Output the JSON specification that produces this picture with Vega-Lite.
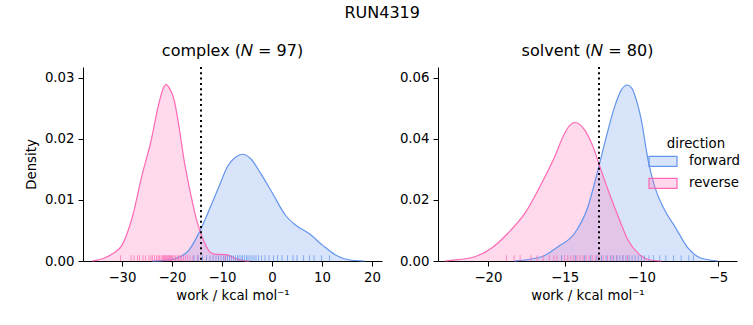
{
  "$schema": "https://vega.github.io/schema/vega-lite/v6.json",
  "padding": {"left": 24, "top": 5, "right": 5, "bottom": 5},
  "title": {"text": "RUN4319", "anchor": "middle", "fontSize": 16, "fontWeight": "normal", "font": "DejaVu Sans", "color": "black", "offset": 22},
  "datasets": {
    "kde": [
      {"panel": "complex", "direction": "forward", "work": -24, "density": 0},
      {"panel": "complex", "direction": "forward", "work": -21.5, "density": 0.0001},
      {"panel": "complex", "direction": "forward", "work": -19.3, "density": 0.0004},
      {"panel": "complex", "direction": "forward", "work": -16.6, "density": 0.0018},
      {"panel": "complex", "direction": "forward", "work": -14.3, "density": 0.0051},
      {"panel": "complex", "direction": "forward", "work": -12.3, "density": 0.0089},
      {"panel": "complex", "direction": "forward", "work": -10.6, "density": 0.0122},
      {"panel": "complex", "direction": "forward", "work": -8.9, "density": 0.0155},
      {"panel": "complex", "direction": "forward", "work": -7.3, "density": 0.017},
      {"panel": "complex", "direction": "forward", "work": -5.9, "density": 0.0175},
      {"panel": "complex", "direction": "forward", "work": -4.3, "density": 0.0168},
      {"panel": "complex", "direction": "forward", "work": -2.3, "density": 0.0144},
      {"panel": "complex", "direction": "forward", "work": 0.1, "density": 0.0111},
      {"panel": "complex", "direction": "forward", "work": 2.7, "density": 0.0075},
      {"panel": "complex", "direction": "forward", "work": 4.7, "density": 0.0059},
      {"panel": "complex", "direction": "forward", "work": 7.4, "density": 0.0045},
      {"panel": "complex", "direction": "forward", "work": 10.1, "density": 0.0026},
      {"panel": "complex", "direction": "forward", "work": 12.7, "density": 0.001},
      {"panel": "complex", "direction": "forward", "work": 15.4, "density": 0.0002},
      {"panel": "complex", "direction": "forward", "work": 18.5, "density": 0},
      {"panel": "complex", "direction": "reverse", "work": -36, "density": 0},
      {"panel": "complex", "direction": "reverse", "work": -35.3, "density": 0.0001},
      {"panel": "complex", "direction": "reverse", "work": -33.5, "density": 0.0005},
      {"panel": "complex", "direction": "reverse", "work": -32.3, "density": 0.001},
      {"panel": "complex", "direction": "reverse", "work": -30, "density": 0.0026},
      {"panel": "complex", "direction": "reverse", "work": -27.9, "density": 0.0073},
      {"panel": "complex", "direction": "reverse", "work": -25.9, "density": 0.0144},
      {"panel": "complex", "direction": "reverse", "work": -24.3, "density": 0.0193},
      {"panel": "complex", "direction": "reverse", "work": -22.6, "density": 0.0259},
      {"panel": "complex", "direction": "reverse", "work": -21.8, "density": 0.0282},
      {"panel": "complex", "direction": "reverse", "work": -21.2, "density": 0.0289},
      {"panel": "complex", "direction": "reverse", "work": -20.5, "density": 0.0283},
      {"panel": "complex", "direction": "reverse", "work": -19.6, "density": 0.0265},
      {"panel": "complex", "direction": "reverse", "work": -18.6, "density": 0.022},
      {"panel": "complex", "direction": "reverse", "work": -17.6, "density": 0.0166},
      {"panel": "complex", "direction": "reverse", "work": -16.3, "density": 0.0111},
      {"panel": "complex", "direction": "reverse", "work": -14.9, "density": 0.0062},
      {"panel": "complex", "direction": "reverse", "work": -13.6, "density": 0.0032},
      {"panel": "complex", "direction": "reverse", "work": -12.3, "density": 0.0014},
      {"panel": "complex", "direction": "reverse", "work": -11.2, "density": 0.0011},
      {"panel": "complex", "direction": "reverse", "work": -10.0, "density": 0.0011},
      {"panel": "complex", "direction": "reverse", "work": -8.9, "density": 0.001},
      {"panel": "complex", "direction": "reverse", "work": -7.3, "density": 0.0004},
      {"panel": "complex", "direction": "reverse", "work": -5.5, "density": 0.00005},
      {"panel": "complex", "direction": "reverse", "work": -4.5, "density": 0},
      {"panel": "solvent", "direction": "forward", "work": -18.3, "density": 0},
      {"panel": "solvent", "direction": "forward", "work": -16.5, "density": 0.0014},
      {"panel": "solvent", "direction": "forward", "work": -15.43, "density": 0.0047},
      {"panel": "solvent", "direction": "forward", "work": -14.35, "density": 0.0091},
      {"panel": "solvent", "direction": "forward", "work": -13.48, "density": 0.0178},
      {"panel": "solvent", "direction": "forward", "work": -12.83, "density": 0.0298},
      {"panel": "solvent", "direction": "forward", "work": -12.28, "density": 0.0408},
      {"panel": "solvent", "direction": "forward", "work": -11.74, "density": 0.0506},
      {"panel": "solvent", "direction": "forward", "work": -11.3, "density": 0.0561},
      {"panel": "solvent", "direction": "forward", "work": -10.93, "density": 0.0577},
      {"panel": "solvent", "direction": "forward", "work": -10.6, "density": 0.0565},
      {"panel": "solvent", "direction": "forward", "work": -10.43, "density": 0.0544},
      {"panel": "solvent", "direction": "forward", "work": -10.0, "density": 0.0462},
      {"panel": "solvent", "direction": "forward", "work": -9.56, "density": 0.0331},
      {"panel": "solvent", "direction": "forward", "work": -9.13, "density": 0.0244},
      {"panel": "solvent", "direction": "forward", "work": -8.48, "density": 0.0167},
      {"panel": "solvent", "direction": "forward", "work": -7.8, "density": 0.0112},
      {"panel": "solvent", "direction": "forward", "work": -6.95, "density": 0.0042},
      {"panel": "solvent", "direction": "forward", "work": -6.08, "density": 0.0009},
      {"panel": "solvent", "direction": "forward", "work": -5.0, "density": 0},
      {"panel": "solvent", "direction": "reverse", "work": -22.8, "density": 0},
      {"panel": "solvent", "direction": "reverse", "work": -22.4, "density": 0.0002},
      {"panel": "solvent", "direction": "reverse", "work": -20.87, "density": 0.0014},
      {"panel": "solvent", "direction": "reverse", "work": -19.78, "density": 0.0042},
      {"panel": "solvent", "direction": "reverse", "work": -18.7, "density": 0.0091},
      {"panel": "solvent", "direction": "reverse", "work": -17.6, "density": 0.0156},
      {"panel": "solvent", "direction": "reverse", "work": -16.5, "density": 0.0255},
      {"panel": "solvent", "direction": "reverse", "work": -15.65, "density": 0.0342},
      {"panel": "solvent", "direction": "reverse", "work": -15.0, "density": 0.0419},
      {"panel": "solvent", "direction": "reverse", "work": -14.6, "density": 0.0448},
      {"panel": "solvent", "direction": "reverse", "work": -14.35, "density": 0.0454},
      {"panel": "solvent", "direction": "reverse", "work": -14.0, "density": 0.0447},
      {"panel": "solvent", "direction": "reverse", "work": -13.7, "density": 0.043},
      {"panel": "solvent", "direction": "reverse", "work": -13.15, "density": 0.0375},
      {"panel": "solvent", "direction": "reverse", "work": -12.7, "density": 0.0309},
      {"panel": "solvent", "direction": "reverse", "work": -12.17, "density": 0.0233},
      {"panel": "solvent", "direction": "reverse", "work": -11.5, "density": 0.0145},
      {"panel": "solvent", "direction": "reverse", "work": -10.87, "density": 0.0069},
      {"panel": "solvent", "direction": "reverse", "work": -10.2, "density": 0.0025},
      {"panel": "solvent", "direction": "reverse", "work": -9.56, "density": 0.0005},
      {"panel": "solvent", "direction": "reverse", "work": -8.7, "density": 0}
    ],
    "rug": [
      {"panel": "complex", "direction": "reverse", "work": -30.3},
      {"panel": "complex", "direction": "reverse", "work": -28.2},
      {"panel": "complex", "direction": "reverse", "work": -27.6},
      {"panel": "complex", "direction": "reverse", "work": -26.9},
      {"panel": "complex", "direction": "reverse", "work": -26.5},
      {"panel": "complex", "direction": "reverse", "work": -25.8},
      {"panel": "complex", "direction": "reverse", "work": -25.3},
      {"panel": "complex", "direction": "reverse", "work": -24.6},
      {"panel": "complex", "direction": "reverse", "work": -24.2},
      {"panel": "complex", "direction": "reverse", "work": -23.9},
      {"panel": "complex", "direction": "reverse", "work": -23.5},
      {"panel": "complex", "direction": "reverse", "work": -23.1},
      {"panel": "complex", "direction": "reverse", "work": -22.8},
      {"panel": "complex", "direction": "reverse", "work": -22.5},
      {"panel": "complex", "direction": "reverse", "work": -22.2},
      {"panel": "complex", "direction": "reverse", "work": -21.9},
      {"panel": "complex", "direction": "reverse", "work": -21.7},
      {"panel": "complex", "direction": "reverse", "work": -21.5},
      {"panel": "complex", "direction": "reverse", "work": -21.3},
      {"panel": "complex", "direction": "reverse", "work": -21.1},
      {"panel": "complex", "direction": "reverse", "work": -20.9},
      {"panel": "complex", "direction": "reverse", "work": -20.7},
      {"panel": "complex", "direction": "reverse", "work": -20.5},
      {"panel": "complex", "direction": "reverse", "work": -20.3},
      {"panel": "complex", "direction": "reverse", "work": -20.1},
      {"panel": "complex", "direction": "reverse", "work": -19.9},
      {"panel": "complex", "direction": "reverse", "work": -19.6},
      {"panel": "complex", "direction": "reverse", "work": -19.3},
      {"panel": "complex", "direction": "reverse", "work": -19.0},
      {"panel": "complex", "direction": "reverse", "work": -18.7},
      {"panel": "complex", "direction": "reverse", "work": -18.4},
      {"panel": "complex", "direction": "reverse", "work": -18.1},
      {"panel": "complex", "direction": "reverse", "work": -17.7},
      {"panel": "complex", "direction": "reverse", "work": -17.3},
      {"panel": "complex", "direction": "reverse", "work": -16.9},
      {"panel": "complex", "direction": "reverse", "work": -16.4},
      {"panel": "complex", "direction": "reverse", "work": -15.8},
      {"panel": "complex", "direction": "reverse", "work": -14.9},
      {"panel": "complex", "direction": "reverse", "work": -9.4},
      {"panel": "complex", "direction": "forward", "work": -15.6},
      {"panel": "complex", "direction": "forward", "work": -14.8},
      {"panel": "complex", "direction": "forward", "work": -13.9},
      {"panel": "complex", "direction": "forward", "work": -13.1},
      {"panel": "complex", "direction": "forward", "work": -12.4},
      {"panel": "complex", "direction": "forward", "work": -11.8},
      {"panel": "complex", "direction": "forward", "work": -11.2},
      {"panel": "complex", "direction": "forward", "work": -10.7},
      {"panel": "complex", "direction": "forward", "work": -10.2},
      {"panel": "complex", "direction": "forward", "work": -9.7},
      {"panel": "complex", "direction": "forward", "work": -9.3},
      {"panel": "complex", "direction": "forward", "work": -8.9},
      {"panel": "complex", "direction": "forward", "work": -8.5},
      {"panel": "complex", "direction": "forward", "work": -8.1},
      {"panel": "complex", "direction": "forward", "work": -7.7},
      {"panel": "complex", "direction": "forward", "work": -7.3},
      {"panel": "complex", "direction": "forward", "work": -6.9},
      {"panel": "complex", "direction": "forward", "work": -6.6},
      {"panel": "complex", "direction": "forward", "work": -6.2},
      {"panel": "complex", "direction": "forward", "work": -5.9},
      {"panel": "complex", "direction": "forward", "work": -5.5},
      {"panel": "complex", "direction": "forward", "work": -5.1},
      {"panel": "complex", "direction": "forward", "work": -4.8},
      {"panel": "complex", "direction": "forward", "work": -4.4},
      {"panel": "complex", "direction": "forward", "work": -4.0},
      {"panel": "complex", "direction": "forward", "work": -3.6},
      {"panel": "complex", "direction": "forward", "work": -3.2},
      {"panel": "complex", "direction": "forward", "work": -2.7},
      {"panel": "complex", "direction": "forward", "work": -2.1},
      {"panel": "complex", "direction": "forward", "work": -1.4},
      {"panel": "complex", "direction": "forward", "work": -0.6},
      {"panel": "complex", "direction": "forward", "work": 0.3},
      {"panel": "complex", "direction": "forward", "work": 1.1},
      {"panel": "complex", "direction": "forward", "work": 2.0},
      {"panel": "complex", "direction": "forward", "work": 3.1},
      {"panel": "complex", "direction": "forward", "work": 4.2},
      {"panel": "complex", "direction": "forward", "work": 5.0},
      {"panel": "complex", "direction": "forward", "work": 6.3},
      {"panel": "complex", "direction": "forward", "work": 7.5},
      {"panel": "complex", "direction": "forward", "work": 8.4},
      {"panel": "complex", "direction": "forward", "work": 9.9},
      {"panel": "complex", "direction": "forward", "work": 11.5},
      {"panel": "solvent", "direction": "reverse", "work": -18.8},
      {"panel": "solvent", "direction": "reverse", "work": -18.3},
      {"panel": "solvent", "direction": "reverse", "work": -17.9},
      {"panel": "solvent", "direction": "reverse", "work": -17.2},
      {"panel": "solvent", "direction": "reverse", "work": -16.8},
      {"panel": "solvent", "direction": "reverse", "work": -16.4},
      {"panel": "solvent", "direction": "reverse", "work": -16.0},
      {"panel": "solvent", "direction": "reverse", "work": -15.7},
      {"panel": "solvent", "direction": "reverse", "work": -15.5},
      {"panel": "solvent", "direction": "reverse", "work": -15.2},
      {"panel": "solvent", "direction": "reverse", "work": -15.0},
      {"panel": "solvent", "direction": "reverse", "work": -14.8},
      {"panel": "solvent", "direction": "reverse", "work": -14.6},
      {"panel": "solvent", "direction": "reverse", "work": -14.4},
      {"panel": "solvent", "direction": "reverse", "work": -14.2},
      {"panel": "solvent", "direction": "reverse", "work": -14.0},
      {"panel": "solvent", "direction": "reverse", "work": -13.8},
      {"panel": "solvent", "direction": "reverse", "work": -13.6},
      {"panel": "solvent", "direction": "reverse", "work": -13.4},
      {"panel": "solvent", "direction": "reverse", "work": -13.2},
      {"panel": "solvent", "direction": "reverse", "work": -13.0},
      {"panel": "solvent", "direction": "reverse", "work": -12.8},
      {"panel": "solvent", "direction": "reverse", "work": -12.5},
      {"panel": "solvent", "direction": "reverse", "work": -12.2},
      {"panel": "solvent", "direction": "reverse", "work": -11.9},
      {"panel": "solvent", "direction": "reverse", "work": -11.6},
      {"panel": "solvent", "direction": "reverse", "work": -11.2},
      {"panel": "solvent", "direction": "reverse", "work": -10.9},
      {"panel": "solvent", "direction": "forward", "work": -15.2},
      {"panel": "solvent", "direction": "forward", "work": -14.3},
      {"panel": "solvent", "direction": "forward", "work": -13.7},
      {"panel": "solvent", "direction": "forward", "work": -13.3},
      {"panel": "solvent", "direction": "forward", "work": -12.9},
      {"panel": "solvent", "direction": "forward", "work": -12.6},
      {"panel": "solvent", "direction": "forward", "work": -12.3},
      {"panel": "solvent", "direction": "forward", "work": -12.0},
      {"panel": "solvent", "direction": "forward", "work": -11.8},
      {"panel": "solvent", "direction": "forward", "work": -11.6},
      {"panel": "solvent", "direction": "forward", "work": -11.4},
      {"panel": "solvent", "direction": "forward", "work": -11.2},
      {"panel": "solvent", "direction": "forward", "work": -11.0},
      {"panel": "solvent", "direction": "forward", "work": -10.8},
      {"panel": "solvent", "direction": "forward", "work": -10.6},
      {"panel": "solvent", "direction": "forward", "work": -10.4},
      {"panel": "solvent", "direction": "forward", "work": -10.2},
      {"panel": "solvent", "direction": "forward", "work": -10.0},
      {"panel": "solvent", "direction": "forward", "work": -9.8},
      {"panel": "solvent", "direction": "forward", "work": -9.5},
      {"panel": "solvent", "direction": "forward", "work": -9.2},
      {"panel": "solvent", "direction": "forward", "work": -8.8},
      {"panel": "solvent", "direction": "forward", "work": -8.4},
      {"panel": "solvent", "direction": "forward", "work": -7.9},
      {"panel": "solvent", "direction": "forward", "work": -7.4},
      {"panel": "solvent", "direction": "forward", "work": -6.9},
      {"panel": "solvent", "direction": "forward", "work": -6.6}
    ],
    "vline": [
      {"panel": "complex", "work": -14.2},
      {"panel": "solvent", "work": -12.76}
    ]
  },
  "hconcat": [
    {
      "width": 299, "height": 194,
      "title": {"text": "complex (𝑁 = 97)", "offset": 7},
      "layer": [
        {
          "data": {"name": "kde"},
          "transform": [{"filter": "datum.panel === 'complex'"}],
          "mark": {"type": "area", "fillOpacity": 0.25, "interpolate": "monotone"},
          "encoding": {
            "x": {"field": "work", "type": "quantitative", "scale": {"domain": [-37.8, 22], "nice": false, "zero": false}, "axis": {"values": [-30, -20, -10, 0, 10, 20], "title": "work / kcal mol⁻¹"}},
            "y": {"field": "density", "type": "quantitative", "stack": null, "scale": {"domain": [0, 0.0318], "nice": false}, "axis": {"values": [0, 0.01, 0.02, 0.03], "format": ".2f", "title": "Density"}},
            "color": {"field": "direction", "type": "nominal", "scale": {"domain": ["forward", "reverse"], "range": ["#6495ED", "#FF69B4"]},
              "legend": {"title": "direction", "orient": "none", "legendX": 569, "legendY": 70,
                "encode": {"symbols": {"update": {"fill": {"scale": "color", "field": "value"}, "fillOpacity": {"value": 0.25}, "stroke": {"scale": "color", "field": "value"}, "strokeWidth": {"value": 1.2}, "opacity": {"value": 1}}}}}}
          }
        },
        {
          "data": {"name": "kde"},
          "transform": [{"filter": "datum.panel === 'complex'"}],
          "mark": {"type": "line", "strokeWidth": 1.2, "interpolate": "monotone"},
          "encoding": {
            "x": {"field": "work", "type": "quantitative"},
            "y": {"field": "density", "type": "quantitative"},
            "color": {"field": "direction", "type": "nominal"}
          }
        },
        {
          "data": {"name": "rug"},
          "transform": [{"filter": "datum.panel === 'complex'"}],
          "mark": {"type": "rule", "strokeWidth": 1, "opacity": 0.7},
          "encoding": {
            "x": {"field": "work", "type": "quantitative"},
            "y": {"datum": 0},
            "y2": {"datum": 0.00095},
            "color": {"field": "direction", "type": "nominal"}
          }
        },
        {
          "data": {"name": "vline"},
          "transform": [{"filter": "datum.panel === 'complex'"}],
          "mark": {"type": "rule", "color": "black", "strokeWidth": 2, "strokeDash": [2, 3.3]},
          "encoding": {
            "x": {"field": "work", "type": "quantitative"}
          }
        }
      ]
    },
    {
      "width": 299, "height": 194,
      "title": {"text": "solvent (𝑁 = 80)", "offset": 7},
      "layer": [
        {
          "data": {"name": "kde"},
          "transform": [{"filter": "datum.panel === 'solvent'"}],
          "mark": {"type": "area", "fillOpacity": 0.25, "interpolate": "monotone"},
          "encoding": {
            "x": {"field": "work", "type": "quantitative", "scale": {"domain": [-23.26, -3.76], "nice": false, "zero": false}, "axis": {"values": [-20, -15, -10, -5], "title": "work / kcal mol⁻¹"}},
            "y": {"field": "density", "type": "quantitative", "stack": null, "scale": {"domain": [0, 0.0636], "nice": false}, "axis": {"values": [0, 0.02, 0.04, 0.06], "format": ".2f", "title": null}},
            "color": {"field": "direction", "type": "nominal"}
          }
        },
        {
          "data": {"name": "kde"},
          "transform": [{"filter": "datum.panel === 'solvent'"}],
          "mark": {"type": "line", "strokeWidth": 1.2, "interpolate": "monotone"},
          "encoding": {
            "x": {"field": "work", "type": "quantitative"},
            "y": {"field": "density", "type": "quantitative"},
            "color": {"field": "direction", "type": "nominal"}
          }
        },
        {
          "data": {"name": "rug"},
          "transform": [{"filter": "datum.panel === 'solvent'"}],
          "mark": {"type": "rule", "strokeWidth": 1, "opacity": 0.7},
          "encoding": {
            "x": {"field": "work", "type": "quantitative"},
            "y": {"datum": 0},
            "y2": {"datum": 0.0019},
            "color": {"field": "direction", "type": "nominal"}
          }
        },
        {
          "data": {"name": "vline"},
          "transform": [{"filter": "datum.panel === 'solvent'"}],
          "mark": {"type": "rule", "color": "black", "strokeWidth": 2, "strokeDash": [2, 3.3]},
          "encoding": {
            "x": {"field": "work", "type": "quantitative"}
          }
        }
      ]
    }
  ],
  "spacing": 17,
  "resolve": {"scale": {"x": "independent", "y": "independent"}},
  "config": {
    "font": "DejaVu Sans",
    "view": {"stroke": null},
    "axis": {"domainColor": "black", "tickColor": "black", "labelColor": "black", "titleColor": "black", "labelFont": "DejaVu Sans", "titleFont": "DejaVu Sans", "labelFontSize": 13.3, "titleFontSize": 13.3, "titleFontWeight": "normal", "grid": false, "tickSize": 5, "labelPadding": 4, "domainWidth": 1, "tickWidth": 1},
    "axisX": {"titlePadding": 5},
    "axisY": {"titlePadding": 6},
    "title": {"font": "DejaVu Sans", "fontSize": 16, "fontWeight": "normal", "color": "black"},
    "legend": {
      "titleAnchor": "middle", "titleFont": "DejaVu Sans", "titleFontSize": 13.3, "titleFontWeight": "normal", "titleColor": "black", "titlePadding": 0,
      "labelFont": "DejaVu Sans", "labelFontSize": 13.3, "labelColor": "black",
      "symbolType": "M-1.4,-0.5H1.4V0.5H-1.4Z", "symbolSize": 400, "labelOffset": 15, "rowPadding": 3,
      "symbolStrokeWidth": 1,
      "padding": 0
    }
  }
}
